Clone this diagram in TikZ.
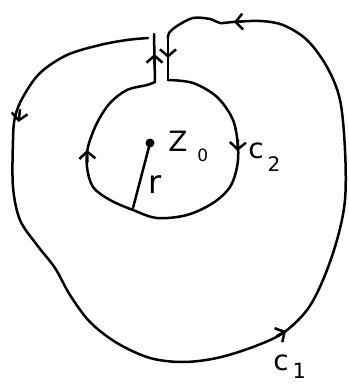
\documentclass[tikz,border=0pt]{standalone}
\usepackage{fontspec}
\newfontfamily\hand{DejaVu Sans}
\usetikzlibrary{arrows.meta}
\begin{document}
\begin{tikzpicture}[x=1pt,y=-1pt, line width=2.5pt, line cap=round, line join=round,
  chev/.style={-{Straight Barb[length=7pt,width=16pt]}},
  lbl/.style={font=\hand\fontsize{28}{30}\selectfont, inner sep=0pt, anchor=base west}]
\useasboundingbox (0,0) rectangle (348,385);
% outer contour c1
\draw plot[smooth, tension=0.55] coordinates {
 (148,38) (127,40) (100,45) (67,55) (40,73) (23,97) (15,117) (13,140) (13,187)
 (20,220) (37,245) (55,268) (70,295) (90,322) (117,343) (150,358) (183,362)
 (217,358) (253,347) (283,333) (307,310) (323,280) (337,240) (345,200) (345,150)
 (340,100) (327,67) (307,40) (283,25) (260,21) (233,22) (220,23) (210,19)
 (193,18) (177,26) (169,33) (168,38)};
% vertical connecting lines
\draw (168,38) -- (168,80);
\draw (154,34) -- (155,82);
% inner circle c2
\draw plot[smooth, tension=0.55] coordinates {
 (168,80) (193,83) (217,97) (233,120) (238,147) (237,167) (230,187) (213,203)
 (187,215) (157,218) (133,210) (110,200) (93,187) (87,167) (88,147) (97,123)
 (110,103) (127,90) (147,85) (155,82)};
% arrow heads
\draw[chev] (242,21.6) -- (234,22);
\draw[chev] (20,110) -- (18.5,122);
\draw[chev] (277,336) -- (286,331);
\draw[chev] (87.5,162) -- (87,150);
\draw[chev] (238,140) -- (237.5,151);
\draw[chev] (154.5,64) -- (154.5,54);
\draw[chev] (168,48) -- (168,58);
% centre and radius
\fill (150,143) circle (4.5);
\draw (150,143) -- (133,208);
\node[lbl] (z0) at (167,151) {Z\kern10pt\raisebox{-10pt}{\fontsize{17}{17}\selectfont 0}};
\node[lbl, font=\hand\fontsize{32}{34}\selectfont] (r) at (147,193) {r};
\node[lbl] (c2) at (247,158) {c\kern4pt\raisebox{-13pt}{\fontsize{20}{20}\selectfont 2}};
\node[lbl] (c1) at (272,370) {c\kern4pt\raisebox{-8pt}{\fontsize{21}{21}\selectfont 1}};
\end{tikzpicture}
\end{document}
